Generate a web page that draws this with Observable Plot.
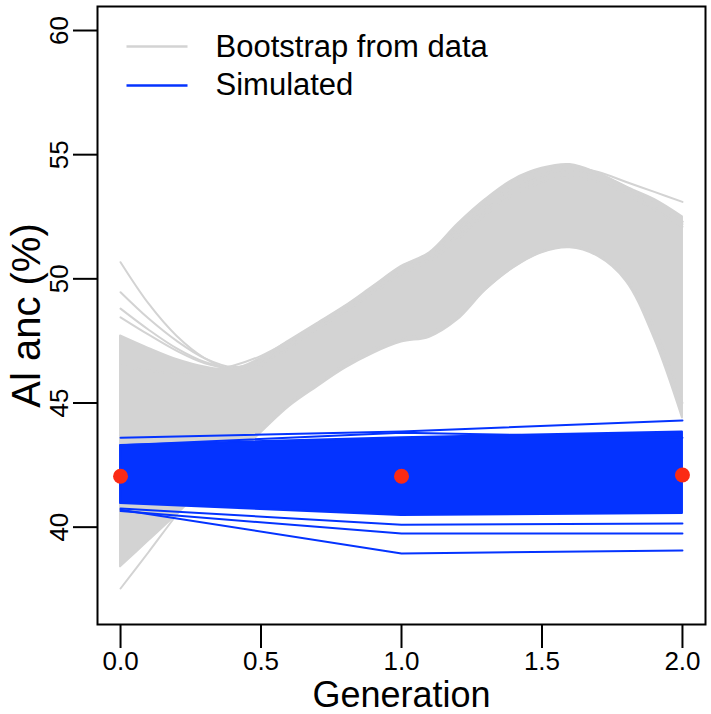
<!DOCTYPE html>
<html>
<head>
<meta charset="utf-8">
<script src="https://cdn.jsdelivr.net/npm/d3@7"></script>
<script src="https://cdn.jsdelivr.net/npm/@observablehq/plot@0.6"></script>
<style>
  html, body { margin: 0; padding: 0; background: #fff; }
  #chart svg { display: block; font-family: "Liberation Sans", Arial, Helvetica, sans-serif; }
</style>
</head>
<body>
<div id="chart"></div>
<script>
// ---- data ----
const gen = [0, 0.1, 0.2, 0.3, 0.4, 0.5, 0.6, 0.7, 0.8, 0.9, 1.0, 1.1, 1.2, 1.3, 1.4, 1.5, 1.6, 1.7, 1.8, 1.9, 2.0];
// envelope of the dense bootstrap bundle
const bootUpper = [47.7, 47.2, 46.75, 46.45, 46.35, 46.8, 47.5, 48.2, 48.9, 49.7, 50.5, 51.05, 52.2, 53.2, 54.0, 54.45, 54.6, 54.25, 53.7, 53.2, 52.5];
const bootLower = [38.4, 39.45, 40.5, 41.6, 42.7, 43.8, 44.85, 45.65, 46.4, 47.0, 47.45, 47.65, 48.35, 49.55, 50.45, 51.05, 51.25, 50.9, 49.9, 47.6, 44.4];
// individual bootstrap curves standing out from the bundle
const bootLineA = [50.67, 49.0, 47.7, 46.8, 46.3, 46.5, 47.2, 48.0, 48.7, 49.5, 50.3, 50.8, 51.8, 52.8, 53.6, 54.1, 54.3, 54.1, 53.6, 52.9, 52.2];
const bootLineB = [49.46, 48.4, 47.5, 46.8, 46.45, 46.7, 47.3, 48.0, 48.7, 49.4, 50.2, 50.7, 51.6, 52.6, 53.4, 53.9, 54.1, 53.9, 53.4, 52.8, 52.1];
const bootLineC = [48.8, 47.95, 47.2, 46.65, 46.4, 46.7, 47.3, 48.0, 48.7, 49.5, 50.4, 50.9, 51.9, 52.9, 53.7, 54.2, 54.4, 54.2, 53.7, 53.0, 52.3];
const bootLineD = [37.53, 39.0, 40.5, 41.9, 43.0, 44.0, 45.0, 45.8, 46.6, 47.2, 47.6, 47.8, 48.5, 49.6, 50.5, 51.1, 51.3, 51.0, 50.1, 48.0, 45.0];
const bootLineE = [46.5, 46.3, 46.2, 46.3, 46.5, 46.9, 47.5, 48.2, 48.9, 49.7, 50.5, 51.0, 52.0, 53.1, 53.9, 54.4, 54.5, 54.3, 53.9, 53.5, 53.1];
const bootLineF = [48.45, 47.75, 47.1, 46.6, 46.4, 46.7, 47.3, 48.0, 48.7, 49.5, 50.4, 50.9, 51.9, 52.9, 53.7, 54.2, 54.4, 54.2, 53.7, 53.0, 52.3];

const simGen = [0, 1, 2];
const simUpper = [43.29, 43.6, 43.83];
const simLower = [40.95, 40.47, 40.55];
const simLineTop = [43.6, 43.85, 44.3];
const simLineTop2 = [43.3, 43.8, 43.6];
const simLineLow1 = [40.75, 40.1, 40.15];
const simLineLow2 = [40.65, 39.74, 39.74];
const simLineLow3 = [40.7, 38.94, 39.06];

const obsGen = [0, 1, 2];
const obsValue = [42.05, 42.05, 42.1];

const xTicks = [0, 0.5, 1, 1.5, 2];
const yTicks = [40, 45, 50, 55, 60];
const legendLabels = ["Bootstrap from data", "Simulated"];

// ---- colors ----
const GRAY = "#d3d3d3";
const BLUE = "#0433ff";
const RED = "#fb2a14";
const legendColors = [GRAY, BLUE];

// ---- tables ----
const bootBand = gen.map((g, i) => ({g, lo: bootLower[i], hi: bootUpper[i]}));
const bootLines = [];
[bootLineA, bootLineB, bootLineC, bootLineD, bootLineE, bootLineF].forEach((arr, k) =>
  arr.forEach((v, i) => bootLines.push({id: k, g: gen[i], v})));
const simBand = simGen.map((g, i) => ({g, lo: simLower[i], hi: simUpper[i]}));
const simLines = [];
[simLineTop, simLineTop2, simLineLow1, simLineLow2, simLineLow3].forEach((arr, k) =>
  arr.forEach((v, i) => simLines.push({id: k, g: simGen[i], v})));
const obs = obsGen.map((g, i) => ({g, v: obsValue[i]}));

const lineSymbol = {draw(ctx) { ctx.moveTo(-30.5, 0); ctx.lineTo(30.5, 0); }};

const legendMarks = legendLabels.flatMap((lab, i) => [
  Plot.dot([lab], {frameAnchor: "top-left", dx: 59.5, dy: 40 + i * 39, symbol: lineSymbol,
    stroke: legendColors[i], strokeWidth: 2.6, fill: "none", r: 10}),
  Plot.text([lab], {frameAnchor: "top-left", dx: 118, dy: 41 + i * 37.5, text: d => d,
    textAnchor: "start", lineAnchor: "middle", fontSize: 31, fill: "black"})
]);

const chart = Plot.plot({
  width: 711,
  height: 714,
  marginLeft: 97,
  marginRight: 6,
  marginTop: 6,
  marginBottom: 90,
  x: {domain: [-0.082, 2.082]},
  y: {domain: [36.08, 60.967]},
  marks: [
    Plot.areaY(bootBand, {x: "g", y1: "lo", y2: "hi", fill: GRAY, stroke: GRAY, strokeWidth: 2, curve: "catmull-rom"}),
    Plot.line(bootLines, {x: "g", y: "v", z: "id", stroke: GRAY, strokeWidth: 2, curve: "catmull-rom"}),
    Plot.areaY(simBand, {x: "g", y1: "lo", y2: "hi", fill: BLUE, stroke: BLUE, strokeWidth: 2}),
    Plot.line(simLines, {x: "g", y: "v", z: "id", stroke: BLUE, strokeWidth: 2}),
    Plot.dot(obs, {x: "g", y: "v", r: 7.5, fill: RED, stroke: "none"}),
    Plot.frame({stroke: "black", strokeWidth: 2}),
    Plot.axisX({ticks: xTicks, tickSize: 24, tickPadding: 3, strokeWidth: 2, fontSize: 26,
      tickFormat: d3.format(".1f"), label: null}),
    Plot.axisY({ticks: yTicks, tickSize: 24, tickPadding: 6, tickRotate: -90, strokeWidth: 2, fontSize: 26,
      tickFormat: d3.format("d"), label: null}),
    Plot.text(["Generation"], {frameAnchor: "bottom", dy: 82, text: d => d, lineAnchor: "bottom",
      textAnchor: "middle", fontSize: 36, fill: "black"}),
    Plot.text(["Al anc (%)"], {frameAnchor: "left", dx: -58, text: d => d, rotate: -90, lineAnchor: "bottom",
      textAnchor: "middle", fontSize: 40, fill: "black"}),
    ...legendMarks
  ]
});
document.getElementById("chart").append(chart);
</script>
</body>
</html>
